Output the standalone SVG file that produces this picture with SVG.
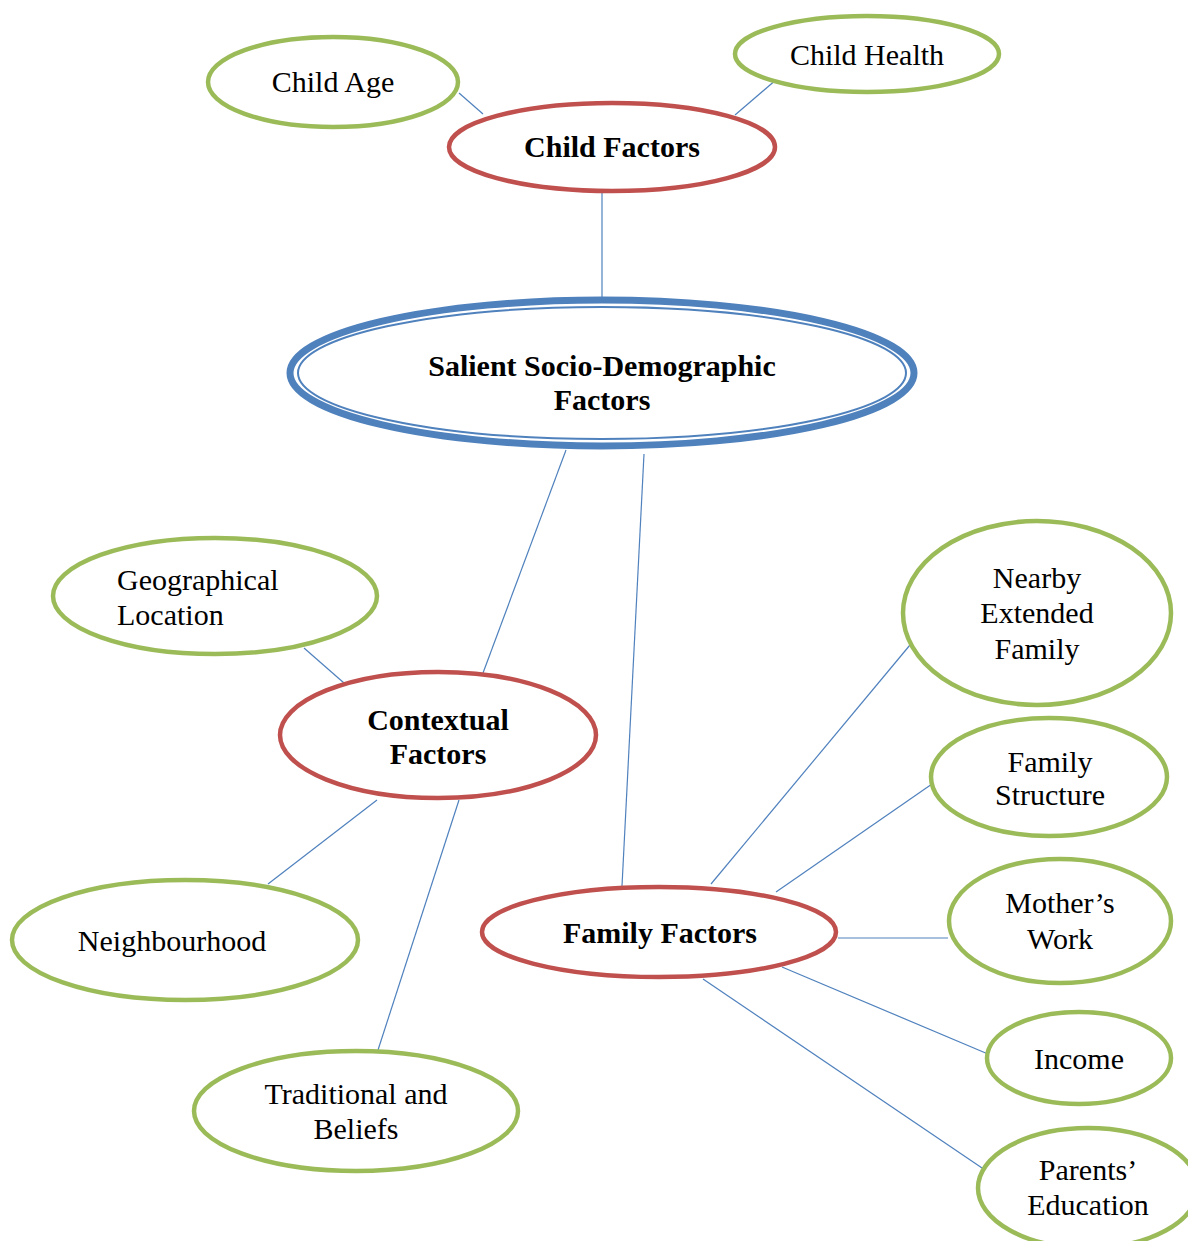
<svg xmlns="http://www.w3.org/2000/svg" width="1188" height="1241" viewBox="0 0 1188 1241">
  <style>
    .leaf { fill: #ffffff; stroke: #9BBB59; stroke-width: 4.5; }
    .group { fill: #ffffff; stroke: #C0504D; stroke-width: 4.5; }
    .core-outer { fill: #ffffff; stroke: #4F81BD; stroke-width: 7; }
    .core-inner { fill: none; stroke: #4F81BD; stroke-width: 2; }
    .link { stroke: #4F81BD; stroke-width: 1.2; fill: none; }
    text { font-family: "Liberation Serif", "Times New Roman", serif; font-size: 30px; fill: #000000; text-anchor: middle; }
    .bold { font-weight: bold; }
  </style>
  <rect width="1188" height="1241" fill="#ffffff"/>

  <g id="connectors">
    <line class="link" x1="459" y1="93" x2="483" y2="114"/>
    <line class="link" x1="777" y1="79" x2="735" y2="115"/>
    <line class="link" x1="602" y1="193" x2="602" y2="297"/>
    <line class="link" x1="566" y1="450" x2="483" y2="673"/>
    <line class="link" x1="644" y1="454" x2="622" y2="886"/>
    <line class="link" x1="304" y1="648" x2="344" y2="683"/>
    <line class="link" x1="377" y1="800" x2="268" y2="884"/>
    <line class="link" x1="459" y1="800" x2="378" y2="1050"/>
    <line class="link" x1="711" y1="884" x2="910" y2="645"/>
    <line class="link" x1="776" y1="892" x2="932" y2="784"/>
    <line class="link" x1="838" y1="938" x2="948" y2="938"/>
    <line class="link" x1="782" y1="967" x2="988" y2="1054"/>
    <line class="link" x1="703" y1="979" x2="985" y2="1170"/>
  </g>

  <g id="child-age">
    <ellipse class="leaf" cx="333" cy="82" rx="125" ry="45"/>
    <text x="333" y="92">Child Age</text>
  </g>
  <g id="child-health">
    <ellipse class="leaf" cx="867" cy="54" rx="132" ry="38"/>
    <text x="867" y="65">Child Health</text>
  </g>
  <g id="child-factors">
    <ellipse class="group" cx="612" cy="147" rx="163" ry="44"/>
    <text class="bold" x="612" y="157">Child Factors</text>
  </g>

  <g id="salient-factors">
    <ellipse class="core-outer" cx="602" cy="373" rx="312" ry="73"/>
    <ellipse class="core-inner" cx="602" cy="373" rx="304" ry="66"/>
    <text class="bold" x="602" y="376">Salient Socio-Demographic</text>
    <text class="bold" x="602" y="410">Factors</text>
  </g>

  <g id="geographical-location">
    <ellipse class="leaf" cx="215" cy="596" rx="162" ry="58"/>
    <text x="117" y="590" style="text-anchor:start">Geographical</text>
    <text x="117" y="625" style="text-anchor:start">Location</text>
  </g>
  <g id="contextual-factors">
    <ellipse class="group" cx="438" cy="735" rx="158" ry="63"/>
    <text class="bold" x="438" y="730">Contextual</text>
    <text class="bold" x="438" y="764">Factors</text>
  </g>
  <g id="neighbourhood">
    <ellipse class="leaf" cx="185" cy="940" rx="173" ry="60"/>
    <text x="172" y="951">Neighbourhood</text>
  </g>
  <g id="traditional-beliefs">
    <ellipse class="leaf" cx="356" cy="1111" rx="162" ry="60"/>
    <text x="356" y="1104">Traditional and</text>
    <text x="356" y="1139">Beliefs</text>
  </g>

  <g id="family-factors">
    <ellipse class="group" cx="659" cy="932" rx="177" ry="45"/>
    <text class="bold" x="660" y="943">Family Factors</text>
  </g>
  <g id="nearby-extended-family">
    <ellipse class="leaf" cx="1037" cy="613" rx="134" ry="92"/>
    <text x="1037" y="588">Nearby</text>
    <text x="1037" y="623">Extended</text>
    <text x="1037" y="659">Family</text>
  </g>
  <g id="family-structure">
    <ellipse class="leaf" cx="1049" cy="777" rx="118" ry="59"/>
    <text x="1050" y="772">Family</text>
    <text x="1050" y="805">Structure</text>
  </g>
  <g id="mothers-work">
    <ellipse class="leaf" cx="1060" cy="921" rx="111" ry="62"/>
    <text x="1060" y="913">Mother’s</text>
    <text x="1060" y="949">Work</text>
  </g>
  <g id="income">
    <ellipse class="leaf" cx="1079" cy="1058" rx="92" ry="46"/>
    <text x="1079" y="1069">Income</text>
  </g>
  <g id="parents-education">
    <ellipse class="leaf" cx="1088" cy="1188" rx="110" ry="60"/>
    <text x="1088" y="1180">Parents’</text>
    <text x="1088" y="1215">Education</text>
  </g>
</svg>
